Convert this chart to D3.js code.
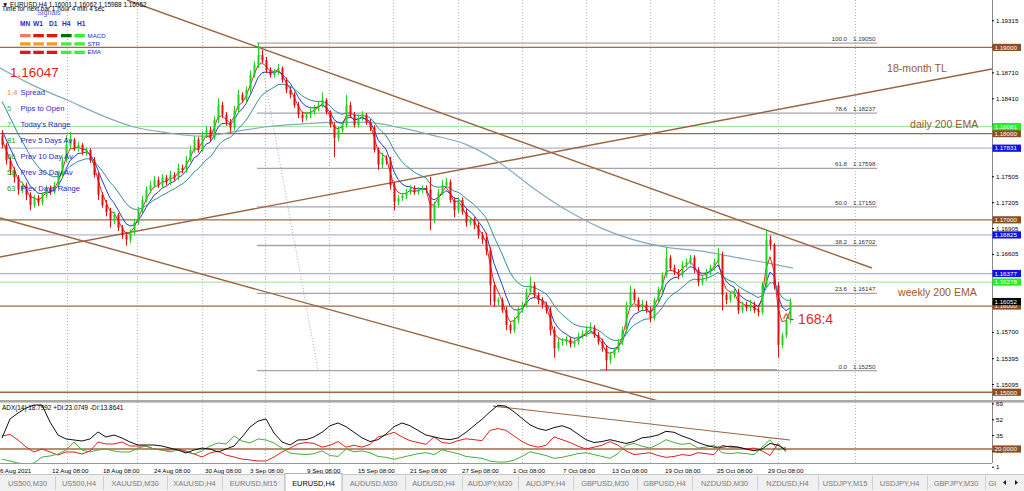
<!DOCTYPE html>
<html><head><meta charset="utf-8">
<script src="https://cdn.jsdelivr.net/npm/d3@7"></script>
<style>
html,body{margin:0;padding:0;background:#fff;overflow:hidden;}
svg{display:block;font-family:"Liberation Sans",Arial,sans-serif;}
</style></head><body><svg id="c" width="1024" height="491"></svg>
<script>
// ---------------- DATA ----------------
const firstOpen = 1.1798;
const closes = [
1.1787,1.1769,1.1758,1.1749,1.1735,1.1740,1.1729,1.1717,1.1725,1.1720,
1.1729,1.1737,1.1732,1.1740,1.1752,1.1769,1.1787,1.1793,1.1783,1.1787,
1.1779,1.1781,1.1769,1.1752,1.1729,1.1717,1.1709,1.1700,1.1706,1.1691,
1.1682,1.1677,1.1686,1.1697,1.1711,1.1723,1.1735,1.1740,1.1746,1.1740,
1.1749,1.1744,1.1752,1.1749,1.1760,1.1758,1.1769,1.1781,1.1793,1.1781,
1.1798,1.1804,1.1795,1.1816,1.1833,1.1822,1.1813,1.1807,1.1827,1.1845,
1.1839,1.1851,1.1868,1.1880,1.1891,1.1885,1.1874,1.1868,1.1871,1.1876,
1.1862,1.1851,1.1845,1.1833,1.1822,1.1818,1.1822,1.1825,1.1830,1.1833,
1.1839,1.1825,1.1810,1.1795,1.1804,1.1810,1.1833,1.1822,1.1810,1.1818,
1.1822,1.1813,1.1807,1.1781,1.1764,1.1772,1.1769,1.1740,1.1721,1.1725,
1.1728,1.1732,1.1737,1.1732,1.1735,1.1737,1.1735,1.1700,1.1717,1.1732,
1.1740,1.1744,1.1723,1.1711,1.1723,1.1709,1.1697,1.1700,1.1694,1.1682,
1.1677,1.1665,1.1624,1.1605,1.1607,1.1595,1.1578,1.1572,1.1584,1.1595,
1.1601,1.1616,1.1624,1.1613,1.1607,1.1601,1.1595,1.1572,1.1551,1.1558,
1.1558,1.1561,1.1556,1.1558,1.1565,1.1568,1.1572,1.1575,1.1566,1.1558,
1.1551,1.1537,1.1543,1.1549,1.1558,1.1572,1.1601,1.1616,1.1607,1.1598,
1.1602,1.1595,1.1586,1.1607,1.1619,1.1636,1.1656,1.1644,1.1639,1.1636,
1.1648,1.1651,1.1656,1.1642,1.1628,1.1633,1.1639,1.1644,1.1651,1.1659,
1.1613,1.1607,1.1613,1.1616,1.1595,1.1601,1.1598,1.1601,1.1595,1.1593,
1.1624,1.1677,1.1671,1.1624,1.1555,1.1566,1.1584,1.1605];
const highs = [
1.1804,1.1789,1.1773,1.1761,1.1752,1.1744,1.1743,1.1732,1.1729,1.1729,
1.1732,1.1740,1.1740,1.1744,1.1755,1.1773,1.1798,1.1802,1.1795,1.1790,
1.1789,1.1784,1.1783,1.1773,1.1755,1.1732,1.1723,1.1714,1.1709,1.1708,
1.1694,1.1686,1.1689,1.1701,1.1715,1.1728,1.1739,1.1745,1.1751,1.1750,
1.1753,1.1752,1.1757,1.1755,1.1765,1.1764,1.1774,1.1786,1.1797,1.1796,
1.1803,1.1809,1.1808,1.1820,1.1841,1.1837,1.1825,1.1817,1.1832,1.1851,
1.1848,1.1855,1.1873,1.1884,1.1905,1.1897,1.1889,1.1877,1.1875,1.1881,
1.1878,1.1865,1.1854,1.1848,1.1837,1.1825,1.1825,1.1829,1.1833,1.1837,
1.1848,1.1841,1.1827,1.1813,1.1808,1.1813,1.1845,1.1837,1.1825,1.1822,
1.1826,1.1824,1.1817,1.1810,1.1784,1.1778,1.1775,1.1773,1.1744,1.1729,
1.1731,1.1736,1.1740,1.1740,1.1738,1.1740,1.1740,1.1750,1.1721,1.1736,
1.1746,1.1749,1.1747,1.1726,1.1726,1.1726,1.1713,1.1703,1.1703,1.1697,
1.1686,1.1685,1.1668,1.1628,1.1610,1.1610,1.1599,1.1581,1.1587,1.1599,
1.1605,1.1620,1.1634,1.1628,1.1616,1.1610,1.1605,1.1599,1.1576,1.1562,
1.1563,1.1565,1.1564,1.1562,1.1569,1.1572,1.1577,1.1581,1.1578,1.1570,
1.1562,1.1555,1.1547,1.1552,1.1562,1.1576,1.1605,1.1624,1.1620,1.1610,
1.1607,1.1606,1.1599,1.1610,1.1622,1.1639,1.1668,1.1659,1.1648,1.1643,
1.1652,1.1655,1.1659,1.1659,1.1645,1.1636,1.1643,1.1648,1.1655,1.1667,
1.1663,1.1616,1.1616,1.1620,1.1620,1.1605,1.1605,1.1607,1.1605,1.1599,
1.1628,1.1688,1.1682,1.1673,1.1628,1.1569,1.1587,1.1609];
const lows = [
1.1783,1.1764,1.1752,1.1743,1.1729,1.1731,1.1723,1.1711,1.1714,1.1716,
1.1717,1.1725,1.1729,1.1730,1.1737,1.1749,1.1767,1.1783,1.1780,1.1779,
1.1775,1.1774,1.1766,1.1749,1.1723,1.1714,1.1704,1.1691,1.1695,1.1687,
1.1678,1.1670,1.1673,1.1682,1.1694,1.1708,1.1720,1.1731,1.1737,1.1737,
1.1737,1.1740,1.1740,1.1745,1.1746,1.1754,1.1755,1.1767,1.1778,1.1778,
1.1779,1.1795,1.1791,1.1793,1.1812,1.1818,1.1809,1.1801,1.1804,1.1824,
1.1836,1.1836,1.1847,1.1865,1.1876,1.1882,1.1870,1.1865,1.1865,1.1868,
1.1859,1.1847,1.1841,1.1830,1.1818,1.1813,1.1815,1.1818,1.1822,1.1826,
1.1830,1.1822,1.1807,1.1773,1.1791,1.1801,1.1807,1.1818,1.1807,1.1807,
1.1815,1.1810,1.1803,1.1778,1.1758,1.1760,1.1764,1.1735,1.1711,1.1717,
1.1722,1.1724,1.1729,1.1729,1.1729,1.1731,1.1731,1.1688,1.1696,1.1714,
1.1729,1.1737,1.1720,1.1703,1.1708,1.1706,1.1692,1.1694,1.1689,1.1678,
1.1672,1.1659,1.1601,1.1599,1.1601,1.1592,1.1572,1.1568,1.1569,1.1580,
1.1592,1.1598,1.1613,1.1609,1.1602,1.1597,1.1591,1.1566,1.1540,1.1548,
1.1554,1.1555,1.1552,1.1552,1.1555,1.1562,1.1564,1.1569,1.1563,1.1555,
1.1547,1.1525,1.1533,1.1540,1.1546,1.1555,1.1569,1.1598,1.1604,1.1594,
1.1594,1.1592,1.1581,1.1583,1.1604,1.1615,1.1633,1.1641,1.1636,1.1631,
1.1633,1.1644,1.1648,1.1638,1.1623,1.1624,1.1629,1.1636,1.1641,1.1648,
1.1595,1.1602,1.1604,1.1609,1.1591,1.1592,1.1594,1.1594,1.1592,1.1588,
1.1590,1.1621,1.1665,1.1619,1.1540,1.1551,1.1563,1.1580];

// moving averages (EMA periods on these bars, seeded from the values left of the chart)
const emaPeriods = [3, 6, 14];
const emaSeeds = [1.1800, 1.1810, 1.1845];
const emaColors = ["#e02828", "#1f3fd0", "#2f8f9c"];
// long (200) EMA
const longEmaBars = [-0.5,7.75,16.25,24.5,32.75,41.25,49.5,57.75,66.25,74.5,82.75,91.25,99.5,107.75,116.25,124.5,132.75,141.25,149.5,157.75,166.25,174.5,182.75,191.25,197.75];
const longEmaVals = [1.1876,1.1856,1.1839,1.1822,1.1808,1.1801,1.1797,1.1802,1.1808,1.1811,1.1813,1.1813,1.1807,1.1798,1.1787,1.1766,1.1737,1.1711,1.1691,1.1677,1.1668,1.1664,1.1657,1.1650,1.1644];

// ADX(14) panel, every 2nd bar
const adxVals = [31.8,52.3,58.7,64,67.3,67.3,49,35,30.8,29.7,28.6,30.8,38.3,32.9,35,31.8,27.5,24.3,24.3,24.3,23.2,21,18.9,15.7,18.9,21,20,16.8,20,23.2,32.9,43.6,50,52.3,37.2,27.5,24.3,29.7,
30,33,38,45,48,44,38,32,28,30,36,44,48,45,40,35,33,31,30,32,38,45,52,60,67,66,60,53,46,42,40,43,45,42,36,30,27,28,30,28,26,28,32,33,35,39,38,34,31,27,24,22,22,23,22,20,18,20,26,24,19];
const minusDI = [34,35.6,29.7,22.2,16.8,20,16.8,13.5,16.8,16.8,14.6,17.8,27.5,25.4,25.4,27.5,23.2,23.2,23.2,20,18.9,18.9,20,17.8,14.6,11.4,15.7,17.8,13.5,11.4,9.2,8.2,7.1,7.1,11.4,16.8,21,25.4,
27,26,22,24,28,22,24,22,25,33,35,38,33,29,27,25,33,27,26,29,31,30,29,40,42,40,34,28,24,22,24,33,30,27,23,20,22,24,28,24,18,14,15,16,13,11,12,14,13,16,15,14,24,22,22,20,21,18,13,26,17];
const plusDI = [9.2,7.1,4.9,3.9,4.9,11.4,12.5,14.6,18.9,27.5,18.9,16.8,18.9,20,17.8,16.8,16.8,21,23.2,20,18.9,16.8,18.9,16.8,14.6,17.8,23.2,26.5,25.4,34,28.6,26.5,30.8,29.7,26.5,21,15.7,14.6,
14,15,18,13,12,20,17,18,16,12,11,9,11,13,15,16,14,19,17,15,12,11,10,7,6,6,8,12,17,15,13,10,11,13,15,16,14,12,10,15,24,26,23,21,25,30,27,25,26,21,22,24,16,15,16,15,14,22,30,19,22];
const adxTicks = [69, 52, 35, 18, 1];
const adxLevel = 20;
const adxTlBars = [122.75, 197];
const adxTlVals = [66.2, 29.7];

// price axis (labels that the reference shows; the rest sit under the level boxes)
const priceTicks = [1.19315,1.19015,1.18710,1.18410,1.18110,1.17505,1.17205,1.16905,1.16605,1.15700,1.15395,1.15095];
const brownLevels = [1.19000,1.18000,1.17000,1.16000,1.15000];
const blueLevels = [1.17831,1.16825,1.16377];
const greenLevels = [1.18081,1.16278];
const currentPrice = 1.16052;

// fibonacci
const fibLevels = ["100.0","78.6","61.8","50.0","38.2","23.6","0.0"];
const fibPrices = [1.19050,1.18237,1.17598,1.17150,1.16702,1.16147,1.15250];
const fibBars = [63.75, 218.75];
const fibDiagBars = [64, 79];
const fibDiagPrices = [1.19050, 1.15250];

// trend lines [startBar,endBar] / [startPrice,endPrice]
const tlBars = [[31.25,217.5],[-0.5,165],[-0.5,247.5]];
const tlPrices = [[1.1955,1.16441],[1.17021,1.14887],[1.16569,1.18750]];
const supportBars = [149.5, 193.75];
const supportPrice = 1.1526;

// time axis
const xLabelText = ["6 Aug 2021","12 Aug 08:00","18 Aug 08:00","24 Aug 08:00","30 Aug 08:00","3 Sep 08:00","9 Sep 08:00","15 Sep 08:00","21 Sep 08:00","27 Sep 08:00","1 Oct 08:00","7 Oct 08:00","13 Oct 08:00","19 Oct 08:00","25 Oct 08:00","29 Oct 08:00"];
const xLabelBars = [-0.5,12.5,25.25,38,50.75,62,76.25,89,102,115,127.75,140.25,152.5,165.75,178.75,191.5];
const gridBars = [16.25,33.75,50,65.75,81.75,97.75,114,130,146,162,178,194,213.25];

// info panel
const infoNums = ["1.4","5","7","81","66","58","63"];
const infoLabels = ["Spread","Pips to Open","Today's Range","Prev 5 Days Av","Prev 10 Day Av","Prev 30 Day Av","Prev Days Range"];
const infoNumColors = ["#e0902a","#38c038","#38c038","#1f8f1f","#1f8f1f","#1f8f1f","#1f8f1f"];
const tfNames = ["MN","W1","D1","H4","H1"];
const sigNames = ["MACD","STR","EMA"];
const sigColors = [
 ["#f07a68","#e01818","#e01818","#0a6a0a","#3cf03c"],
 ["#f0a020","#f0a020","#f0a020","#3cf03c","#3cf03c"],
 ["#e01818","#e01818","#e01818","#3cf03c","#3cf03c"]];

const tabNames = ["US500,M30","US500,H4","XAUUSD,M30","XAUUSD,H4","EURUSD,M15","EURUSD,H4","AUDUSD,M30","AUDUSD,H4","AUDJPY,M30","AUDJPY,H4","GBPUSD,M30","GBPUSD,H4","NZDUSD,M30","NZDUSD,H4","USDJPY,M15","USDJPY,H4","GBPJPY,M30","GI"];
const tabEdges = [0,55,103,167,222,285,342,405,462,518,573,637,692,757,818,872,927,985,1000];
const activeTab = "EURUSD,H4";

// ---------------- DRAW ----------------
const svg = d3.select("#c");
const R = 992, MB = 400;
const x = d3.scaleLinear().domain([-0.5, 247.5]).range([0, R]);
const y = d3.scaleLinear().domain([1.1491, 1.1955]).range([MB, 0]);
const ya = d3.scaleLinear().domain([4.95, 69.46]).range([463, 403]);
const BROWN = "#a06a46", BROWNBOX = "#8c4e22";

svg.append("rect").attr("width",1024).attr("height",491).attr("fill","#fff");
const defs = svg.append("defs");
defs.append("clipPath").attr("id","cm").append("rect").attr("x",0).attr("y",0).attr("width",R).attr("height",MB);
defs.append("clipPath").attr("id","ca").append("rect").attr("x",0).attr("y",403).attr("width",R).attr("height",60);

// vertical grid
svg.append("g").selectAll("line").data(gridBars).join("line")
 .attr("x1",d=>Math.round(x(d))+0.5).attr("x2",d=>Math.round(x(d))+0.5)
 .attr("y1",0).attr("y2",463).attr("stroke","#b8b8b8").attr("stroke-dasharray","1,2");

const main = svg.append("g").attr("clip-path","url(#cm)");

// horizontal levels
main.selectAll(".bl").data(blueLevels).join("line").attr("x1",0).attr("x2",R)
 .attr("y1",d=>y(d)).attr("y2",d=>y(d)).attr("stroke","#b4b4d2").attr("stroke-width",1.2);
main.selectAll(".gl").data(greenLevels).join("line").attr("x1",0).attr("x2",R)
 .attr("y1",d=>y(d)).attr("y2",d=>y(d)).attr("stroke","#98e098").attr("stroke-width",1);

// fib
main.selectAll(".fl").data(fibPrices).join("line")
 .attr("x1",x(fibBars[0])).attr("x2",x(fibBars[1]))
 .attr("y1",d=>y(d)).attr("y2",d=>y(d)).attr("stroke","#a4a4b0").attr("stroke-width",1.3);
main.append("line").attr("x1",x(fibDiagBars[0])).attr("x2",x(fibDiagBars[1]))
 .attr("y1",y(fibDiagPrices[0])).attr("y2",y(fibDiagPrices[1]))
 .attr("stroke","#a8a8a8").attr("stroke-dasharray","1,2");
main.selectAll(".ft").data(fibPrices).join("text")
 .attr("x",x(fibBars[1])-30).attr("y",d=>y(d)-2).attr("text-anchor","end")
 .attr("font-size",6.2).attr("fill","#333").text((d,i)=>fibLevels[i]);
main.selectAll(".fp").data(fibPrices).join("text")
 .attr("x",x(fibBars[1])-24).attr("y",d=>y(d)-2)
 .attr("font-size",6.2).attr("fill","#333").text(d=>d.toFixed(5));

// support line
main.append("line").attr("x1",x(supportBars[0])).attr("x2",x(supportBars[1]))
 .attr("y1",y(supportPrice)).attr("y2",y(supportPrice)).attr("stroke","#a89c90").attr("stroke-width",1.8);

// brown levels
main.selectAll(".brl").data(brownLevels).join("line").attr("x1",0).attr("x2",R)
 .attr("y1",d=>y(d)).attr("y2",d=>y(d)).attr("stroke",BROWN).attr("stroke-width",1.3);

// trend lines
tlBars.forEach((b,i)=>{
  main.append("line").attr("x1",x(b[0])).attr("x2",x(b[1]))
   .attr("y1",y(tlPrices[i][0])).attr("y2",y(tlPrices[i][1]))
   .attr("stroke","#9a6440").attr("stroke-width",1.4);
});

// long EMA
main.append("path").datum(longEmaBars.map((b,i)=>[b,longEmaVals[i]]))
 .attr("d",d3.line().curve(d3.curveMonotoneX).x(d=>x(d[0])).y(d=>y(d[1])))
 .attr("fill","none").attr("stroke","#86aabb").attr("stroke-width",1.2);

// short EMAs
emaPeriods.forEach((p,j)=>{
  const k = 2/(p+1); let e = emaSeeds[j];
  const vals = closes.map(c => (e = e + k*(c-e)));
  main.append("path").datum(vals)
   .attr("d",d3.line().x((d,i)=>x(i)).y(d=>y(d)))
   .attr("fill","none").attr("stroke",emaColors[j]).attr("stroke-width",1);
});

// candles
const candles = closes.map((c,i)=>({i, o: i? closes[i-1]: firstOpen, c, h: highs[i], l: lows[i]}));
const cg = main.append("g");
cg.selectAll("line").data(candles).join("line")
 .attr("x1",d=>Math.round(x(d.i))+0.5).attr("x2",d=>Math.round(x(d.i))+0.5)
 .attr("y1",d=>y(Math.max(d.h,d.o,d.c))).attr("y2",d=>y(Math.min(d.l,d.o,d.c)))
 .attr("stroke",d=>d.c>=d.o?"#22d022":"#e01010").attr("stroke-width",1);
cg.selectAll("rect").data(candles).join("rect")
 .attr("x",d=>Math.round(x(d.i))-0.5).attr("width",2)
 .attr("y",d=>y(Math.max(d.o,d.c))).attr("height",d=>Math.max(1,y(Math.min(d.o,d.c))-y(Math.max(d.o,d.c))))
 .attr("fill",d=>d.c>=d.o?"#22d022":"#e01010");

// annotations
const ann = svg.append("g").attr("fill","#9a5a30").attr("font-size",10.6);
ann.append("text").attr("x",887).attr("y",72).text("18-month TL");
ann.append("text").attr("x",910).attr("y",128).text("daily 200 EMA");
ann.append("text").attr("x",898).attr("y",295.5).text("weekly 200 EMA");
svg.append("text").attr("x",783).attr("y",324).attr("font-size",14).attr("fill","#e02828").text("^- 168:4");

// info panel
svg.append("text").attr("x",2).attr("y",7).attr("font-size",6.4).attr("fill","#000").text("▼ EURUSD,H4  1.16001 1.16062 1.15988 1.16052");
svg.append("text").attr("x",2).attr("y",10.5).attr("font-size",6.4).attr("fill","#000").text("Time for next bar 1 hour 4 min 4 sec");
svg.append("text").attr("x",37).attr("y",15).attr("font-size",7.2).attr("fill","#5a5ad0").text("Signals");
tfNames.forEach((t,i)=>svg.append("text").attr("x",[20,33,49,62,77][i]).attr("y",26).attr("font-size",6.6).attr("font-weight","bold").attr("fill","#2a2acc").text(t));
sigNames.forEach((s,r)=>{
  const yy = [34,42.3,50.7][r];
  sigColors[r].forEach((c,k)=>svg.append("rect").attr("x",[20,33.3,46.7,61,74.3][k]).attr("y",yy).attr("width",10.6).attr("height",3.3).attr("fill",c));
  svg.append("text").attr("x",87.5).attr("y",yy+3.6).attr("font-size",6.2).attr("fill","#2a2acc").text(s);
});
svg.append("text").attr("x",10).attr("y",77).attr("font-size",13.5).attr("fill","#e02020").text("1.16047");
infoLabels.forEach((t,i)=>{
  const yy = 94.5 + i*16;
  svg.append("text").attr("x",7).attr("y",yy).attr("font-size",7.6).attr("fill",infoNumColors[i]).text(infoNums[i]);
  svg.append("text").attr("x",20.5).attr("y",yy).attr("font-size",7.6).attr("fill","#2828c8").text(t);
});

// right price axis
svg.append("rect").attr("x",R).attr("y",0).attr("width",1024-R).attr("height",463).attr("fill","#fff");
svg.append("line").attr("x1",R+0.5).attr("x2",R+0.5).attr("y1",0).attr("y2",463).attr("stroke","#888");
const ax = svg.append("g").attr("transform",`translate(${R},0)`)
 .call(d3.axisRight(y).tickValues(priceTicks).tickSize(2).tickPadding(2).tickFormat(d3.format(".5f")));
ax.select(".domain").remove();
ax.selectAll("text").attr("font-size",6.2).attr("fill","#000").attr("font-family","Liberation Sans, Arial");
ax.selectAll("line").attr("stroke","#000");

function box(price, color, scale, txt){
  const yy = scale(price);
  svg.append("rect").attr("x",R+0.5).attr("y",yy-3.6).attr("width",28.5).attr("height",7.2).attr("fill",color);
  svg.append("text").attr("x",R+2.5).attr("y",yy+2.3).attr("font-size",6.2).attr("fill","#fff").text(txt);
}
brownLevels.forEach(p=>box(p,BROWNBOX,y,p.toFixed(5)));
greenLevels.forEach(p=>box(p,"#22f022",y,p.toFixed(5)));
blueLevels.forEach(p=>box(p,"#1010e8",y,p.toFixed(5)));
box(currentPrice,"#000",y,currentPrice.toFixed(5));

// panel separator
svg.append("rect").attr("x",0).attr("y",400).attr("width",1024).attr("height",2.6).attr("fill","#a8a8a8");

// ADX panel
const ad = svg.append("g").attr("clip-path","url(#ca)");
ad.append("line").attr("x1",0).attr("x2",R).attr("y1",ya(adxLevel)).attr("y2",ya(adxLevel)).attr("stroke",BROWN).attr("stroke-width",1.3);
ad.append("line").attr("x1",x(adxTlBars[0])).attr("x2",x(adxTlBars[1])).attr("y1",ya(adxTlVals[0])).attr("y2",ya(adxTlVals[1])).attr("stroke","#9a6440").attr("stroke-width",1.2);
const aline = d3.line().x((d,i)=>x(i*2)).y(d=>ya(d));
[[minusDI,"#e02020"],[plusDI,"#40b040"],[adxVals,"#101010"]].forEach(([arr,c])=>{
  ad.append("path").datum(arr).attr("d",aline).attr("fill","none").attr("stroke",c).attr("stroke-width",1);
});
svg.append("text").attr("x",2).attr("y",410).attr("font-size",6.4).attr("fill","#000").text("ADX(14) 18.7992 +DI:23.0749 -DI:13.8641");
const aax = svg.append("g").attr("transform",`translate(${R},0)`)
 .call(d3.axisRight(ya).tickValues(adxTicks).tickSize(2).tickPadding(2).tickFormat(d=>d));
aax.select(".domain").remove();
aax.selectAll("text").attr("font-size",6.2).attr("fill","#000");
aax.selectAll("line").attr("stroke","#000");
box(adxLevel, BROWNBOX, ya, "20.0000");
svg.append("line").attr("x1",0).attr("x2",R).attr("y1",463.5).attr("y2",463.5).attr("stroke","#999");

// time axis labels
svg.append("g").selectAll("text").data(xLabelBars).join("text")
 .attr("x",d=>Math.max(0,x(d))).attr("y",472.5).attr("font-size",6.2).attr("fill","#000")
 .text((d,i)=>xLabelText[i]);

// tabs
const tg = svg.append("g");
tg.append("rect").attr("x",0).attr("y",474).attr("width",1024).attr("height",17).attr("fill","#f0f0f0");
tg.append("line").attr("x1",0).attr("x2",1024).attr("y1",474.5).attr("y2",474.5).attr("stroke","#c8c8c8");
tabNames.forEach((t,i)=>{
  const x0 = tabEdges[i], x1 = tabEdges[i+1];
  if (t===activeTab){
    tg.append("rect").attr("x",x0).attr("y",473.5).attr("width",x1-x0).attr("height",18).attr("fill","#fff").attr("stroke","#b0b0b0");
  } else {
    tg.append("line").attr("x1",x1+0.5).attr("x2",x1+0.5).attr("y1",476).attr("y2",490).attr("stroke","#cfcfcf");
  }
  tg.append("text").attr("x",(x0+x1)/2).attr("y",485.5).attr("text-anchor","middle").attr("font-size",7.4)
   .attr("fill",t===activeTab?"#000":"#7a7a7a").text(t);
});
tg.append("rect").attr("x",1000).attr("y",475).attr("width",24).attr("height",16).attr("fill","#f0f0f0");
tg.append("path").attr("d","M1003,482.5 L1006,480 L1006,485 Z").attr("fill","#222");
tg.append("path").attr("d","M1018,482.5 L1015,480 L1015,485 Z").attr("fill","#222");
</script></body></html>
